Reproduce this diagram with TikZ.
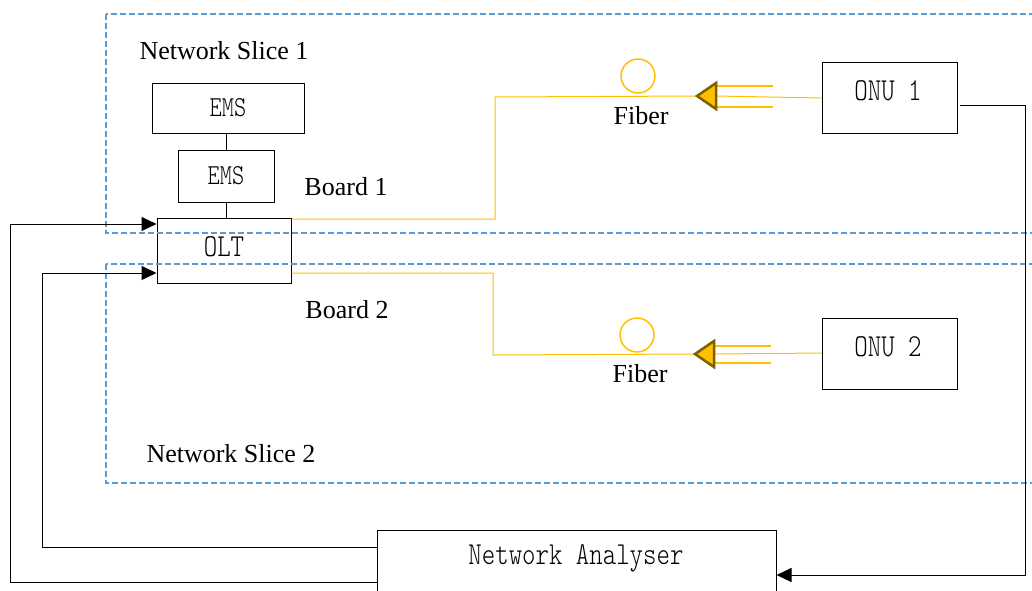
\documentclass[tikz,border=0pt]{standalone}
\usepackage{fontspec}
\setmainfont{Liberation Serif}
\newfontfamily\boxfont[FakeStretch=0.8]{Latin Modern Mono Light}
\usetikzlibrary{arrows.meta}
\definecolor{slice}{HTML}{5B9BD5}
\definecolor{fiber}{HTML}{FFC000}
\definecolor{fiberedge}{HTML}{7F6000}
\begin{document}
\begin{tikzpicture}[x=1pt,y=-1pt,
  box/.style={draw, line width=1pt, inner sep=0pt, align=center},
  boxtext/.style={font=\boxfont\fontsize{32}{32}\selectfont, inner sep=0pt},
  emstext/.style={font=\boxfont\fontsize{29}{29}\selectfont, inner sep=0pt},
  caption/.style={font=\fontsize{26}{30}\selectfont, inner sep=0pt},
  slicebox/.style={draw=slice, line width=1.4pt, dash pattern=on 6pt off 3pt},
  fiberline/.style={draw=fiber, line width=1pt},
  fiberrail/.style={draw=fiber, line width=2pt},
  tip/.style={fill=fiber, draw=fiberedge, line width=2.5pt, line join=miter},
  conn/.style={draw, line width=1pt},
  arr/.style={conn, -{Triangle[length=15pt,width=14pt]}}]
\useasboundingbox (0,0) rectangle (1032,590);
\clip (0,0) rectangle (1032,590);

% equipment
\node[box, minimum width=152, minimum height=50] (ems1) at (228,108) {};
\node[emstext] (ems1label) at (228,108) {EMS};
\node[box, minimum width=96, minimum height=52] (ems2) at (226,176) {};
\node[emstext] (ems2label) at (226,176) {EMS};
\node[box, minimum width=134, minimum height=65] (olt) at (224,250.5) {};
\node[boxtext] (oltlabel) at (224,247) {OLT};
\node[box, minimum width=135, minimum height=71] (onu1) at (889.5,97.5) {};
\node[boxtext] (onu1label) at (888,91) {ONU 1};
\node[box, minimum width=135, minimum height=71] (onu2) at (889.5,353.5) {};
\node[boxtext] (onu2label) at (888,347) {ONU 2};
\node[box, minimum width=399, minimum height=80] (na) at (576.5,570) {};
\node[boxtext] (nalabel) at (576,558) {Network Analyser};

% management links
\draw[conn] (ems2.north |- ems1.south) -- (ems2.north);
\draw[conn] (ems2.south) -- (ems2.south |- olt.north);

% network slices
\draw[slicebox] (106,14) rectangle (1040,233);
\draw[slicebox] (106,264) rectangle (1040,483);
\node[caption] (slice1) at (224,51) {Network Slice 1};
\node[caption] (slice2) at (231,454) {Network Slice 2};
\node[caption] (board1) at (346,187) {Board 1};
\node[caption] (board2) at (347,310) {Board 2};

% fiber path of slice 1
\coordinate (tip1) at (697,96);
\coordinate (base1) at (716,96);
\draw[fiberline] (olt.east |- 0,219) -- (495,219) -- (495,97) -- (tip1);
\draw[fiberline] (base1) -- (onu1.west |- 0,98);
\draw[fiberrail] ([yshift=-11]base1) -- ++(57,0);
\draw[fiberrail] ([yshift=10]base1) -- ++(57,0);
\draw[tip] (tip1) -- ([yshift=-13]base1) -- ([yshift=13]base1) -- cycle;
\node[draw=fiber, line width=1.5pt, circle, minimum size=34, inner sep=0pt] (loop1) at (638,76) {};
\node[caption] (fiber1) at (641,116) {Fiber};

% fiber path of slice 2
\coordinate (tip2) at (695,354);
\coordinate (base2) at (714,354);
\draw[fiberline] (olt.east |- 0,273) -- (493,273) -- (493,355) -- (tip2);
\draw[fiberline] (base2) -- (onu2.west |- 0,353);
\draw[fiberrail] ([yshift=-9]base2) -- ++(57,0);
\draw[fiberrail] ([yshift=8]base2) -- ++(57,0);
\draw[tip] (tip2) -- ([yshift=-13]base2) -- ([yshift=13]base2) -- cycle;
\node[draw=fiber, line width=1.5pt, circle, minimum size=34, inner sep=0pt] (loop2) at (637,335) {};
\node[caption] (fiber2) at (640,374) {Fiber};

% measurement loop
\draw[arr] (960,105) -- (1025,105) -- (1025,575) -- (na.east |- 0,575);
\draw[arr] (na.west |- 0,547) -- (42,547) -- (42,273) -- (olt.west |- 0,273);
\draw[arr] (na.west |- 0,582) -- (10,582) -- (10,224) -- (olt.west |- 0,224);
\end{tikzpicture}
\end{document}
